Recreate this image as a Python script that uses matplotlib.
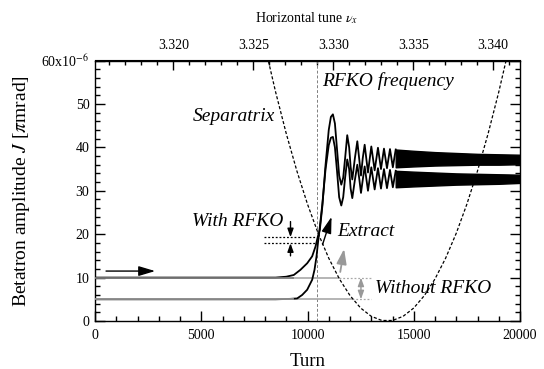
import matplotlib
matplotlib.use("Agg")
import matplotlib.pyplot as plt
from matplotlib.ticker import MultipleLocator, FixedLocator

# --- data (J in units of 1e-6 pi mrad) ---
OUTER_TURN = [0, 8500, 9000, 9355, 9670, 9985, 10220, 10380, 10490, 10580, 10700, 10850, 11000, 11100,
              11195, 11290, 11390, 11490, 11590, 11680, 11770, 11870, 11960, 12030, 12108, 12230, 12344,
              12430, 12517, 12600, 12690, 12846, 13003, 13160, 13316, 13458, 13599, 13740, 13882, 14016, 14151]
OUTER_J = [10, 10, 10.2, 10.6, 11.8, 13.3, 14.9, 17.2, 19.5, 21.0, 26.5, 36.0, 44.0, 47.0,
           47.6, 45.5, 39.5, 33.5, 31.4, 33.0, 37.5, 42.8, 40.0, 35.5, 32.6, 37.5, 41.4,
           37.5, 33.5, 37.5, 40.6, 34.2, 40.2, 34.7, 39.9, 35.0, 39.7, 35.2, 39.6, 35.4, 39.5]

INNER_TURN = [0, 8500, 9200, 9513, 9750, 9985, 10220, 10330, 10425, 10490, 10550, 10700, 10850, 11000, 11100,
              11195, 11290, 11390, 11490, 11590, 11680, 11770, 11870, 11960, 12030, 12108, 12230, 12344,
              12430, 12517, 12600, 12690, 12846, 13003, 13160, 13316, 13458, 13599, 13740, 13882, 14016, 14151]
INNER_J = [5, 5, 5.1, 5.2, 6.0, 7.2, 9.5, 11.8, 14.9, 17.9, 20.3, 27.0, 35.0, 40.5, 42.2,
           42.4, 40.0, 34.5, 28.5, 26.6, 28.5, 33.0, 37.2, 35.0, 30.5, 28.3, 32.5, 36.0,
           33.0, 29.5, 32.5, 35.6, 30.0, 35.4, 30.3, 35.2, 30.5, 35.0, 30.6, 34.8, 30.8, 34.6]

# dense oscillation region: envelope of each curve
BAND_TURN = [14151, 15000, 16000, 17000, 18000, 19000, 20000]
OUTER_HI = [39.5, 39.2, 38.9, 38.7, 38.5, 38.4, 38.3]
OUTER_LO = [35.4, 35.6, 35.8, 35.9, 36.0, 36.0, 36.1]
INNER_HI = [34.6, 34.4, 34.2, 34.0, 33.9, 33.8, 33.7]
INNER_LO = [30.8, 31.0, 31.2, 31.4, 31.5, 31.6, 31.8]

SEP_TURN = [8000, 8500, 9000, 9500, 10000, 10500, 11000, 11500, 12000, 12500, 13000, 13500,
            14000, 14500, 15000, 15500, 16000, 16500, 17000, 17500, 18000, 18500, 19000, 19500]
SEP_J = [63.26, 52.73, 43.17, 34.56, 26.91, 20.21, 14.47, 9.69, 5.86, 2.99, 1.08, 0.12,
         0.12, 1.08, 2.99, 5.86, 9.69, 14.47, 20.21, 26.91, 34.56, 43.17, 52.73, 63.26]

J_START = [10, 5]             # without RFKO
SEP_CROSS = [11460, 12100]    # where the flat lines meet the separatrix
DOT_END = 12970
RFKO_TURN = 10450
TUNE0, TUNE_SLOPE = 3.3151, 1.329e-6
TUNE_TICKS = [3.320, 3.325, 3.330, 3.335, 3.340]

plt.rcParams['font.family'] = 'serif'
plt.rcParams['font.serif'] = ['Liberation Serif', 'DejaVu Serif']
plt.rcParams['mathtext.fontset'] = 'stix'

fig = plt.figure(figsize=(5.44, 3.69), dpi=100)
ax = fig.add_axes([95/544, 1-321/369, 425/544, 260.5/369])

ax.axvline(RFKO_TURN, color='#808080', ls=(0, (3, 2)), lw=0.7, zorder=1)

# with RFKO
ax.plot(OUTER_TURN, OUTER_J, color='k', lw=1.3, zorder=3)
ax.plot(INNER_TURN, INNER_J, color='k', lw=1.3, zorder=3)
ax.fill_between(BAND_TURN, OUTER_LO, OUTER_HI, color='k', lw=1.0, zorder=3)
ax.fill_between(BAND_TURN, INNER_LO, INNER_HI, color='k', lw=1.0, zorder=3)

# without RFKO: constant amplitude, gray (drawn over the flat start of the RFKO curves)
for j, xc, c in zip(J_START, SEP_CROSS, ['#7a7a7a', '#959595']):
    ax.plot([0, 9300], [j, j], color=c, lw=1.3, zorder=3.5)
    ax.plot([9300, xc], [j, j], color='#a8a8a8', lw=1.2, zorder=2)
    ax.plot([xc, DOT_END], [j, j], color='#a8a8a8', lw=0.9, ls=(0, (1.5, 1.5)), zorder=2)

ax.plot(SEP_TURN, SEP_J, color='k', lw=0.9, ls=(0, (2.5, 1.6)), zorder=4)

# annotations
arr = lambda hl, hw: dict(arrowstyle=f'-|>,head_length={hl},head_width={hw}', mutation_scale=10,
                          lw=1.0, shrinkA=0, shrinkB=0)
ax.annotate('', xy=(2830, 11.5), xytext=(519, 11.5), arrowprops={**arr(1.0, 0.3), 'color': 'k'})
ax.annotate('', xy=(11132, 24.0), xytext=(10708, 17.6), arrowprops={**arr(1.0, 0.3), 'color': 'k'})
ax.annotate('', xy=(11722, 16.6), xytext=(11542, 11.3), arrowprops={**arr(0.9, 0.3), 'color': '#999999', 'lw': 1.3})

for j in [19.3, 17.9]:
    ax.plot([7970, 10470], [j, j], color='k', lw=0.9, ls=(0, (1.5, 1.5)), zorder=3)
ax.annotate('', xy=(9200, 19.3), xytext=(9200, 22.9), arrowprops={**arr(0.5, 0.18), 'color': 'k'})
ax.annotate('', xy=(9200, 17.9), xytext=(9200, 15.0), arrowprops={**arr(0.5, 0.18), 'color': 'k'})
ax.annotate('', xy=(12515, 5.0), xytext=(12515, 10.0),
            arrowprops=dict(arrowstyle='<|-|>,head_length=0.5,head_width=0.18', mutation_scale=10,
                            color='#999999', lw=1.0, shrinkA=0, shrinkB=0))

tkw = dict(fontsize=14, fontstyle='italic', va='center', ha='left')
ax.text(4590, 47.1, 'Separatrix', **tkw)
ax.text(10710, 55.2, 'RFKO frequency', **tkw)
ax.text(4560, 22.9, 'With RFKO', **tkw)
ax.text(11415, 20.6, 'Extract', **tkw)
ax.text(13160, 7.6, 'Without RFKO', **tkw)

ax.set_xlim(0, 20000)
ax.set_ylim(0, 60)
ax.xaxis.set_major_locator(MultipleLocator(5000))
ax.xaxis.set_minor_locator(MultipleLocator(1000))
ax.yaxis.set_minor_locator(MultipleLocator(2))
ax.set_yticks([0, 10, 20, 30, 40, 50, 60])
ax.set_yticklabels(['0', '10', '20', '30', '40', '50', r'60x10$^{-6}$'])
ax.tick_params(which='both', direction='in', top=False, right=True, labelsize=10, width=1.0)
ax.tick_params(which='major', length=7)
ax.tick_params(which='minor', length=3.6)
ax.tick_params(axis='x', pad=6)
ax.tick_params(axis='y', pad=4)
for s in ax.spines.values():
    s.set_linewidth(1.0)

ax.set_xlabel('Turn', fontsize=13.5, va='center')
ax.xaxis.set_label_coords(0.5, -0.154)
ax.set_ylabel(r'Betatron amplitude $J$ [$\pi$mrad]', fontsize=14, va='center')
ax.yaxis.set_label_coords(-0.172, 0.5)

sec = ax.secondary_xaxis('top', functions=(lambda t: TUNE0 + TUNE_SLOPE * t,
                                            lambda v: (v - TUNE0) / TUNE_SLOPE))
sec.xaxis.set_major_locator(FixedLocator(TUNE_TICKS))
sec.xaxis.set_minor_locator(MultipleLocator(0.001))
sec.xaxis.set_major_formatter(plt.FuncFormatter(lambda v, _: f'{v:.3f}'))
sec.tick_params(which='both', direction='in', labelsize=10, width=1.0, pad=6)
sec.tick_params(which='major', length=7)
sec.tick_params(which='minor', length=3.6)
fig.text(307/544, 1 - 18/369, r'Horizontal tune $\nu_x$', fontsize=10, ha='center', va='center')

fig.savefig('out.png', dpi=100)
